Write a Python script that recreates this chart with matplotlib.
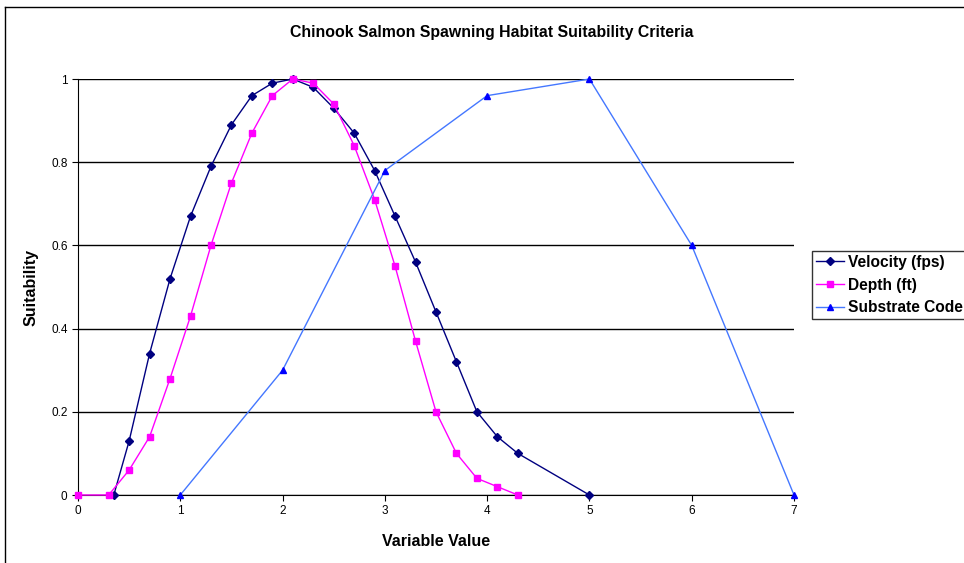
import matplotlib.pyplot as plt
from matplotlib.lines import Line2D

plt.rcParams['font.family'] = ['Liberation Sans', 'DejaVu Sans']

# velocity (fps)
vel_x = [0.35, 0.5, 0.7, 0.9, 1.1, 1.3, 1.5, 1.7, 1.9, 2.1, 2.3, 2.5, 2.7, 2.9,
         3.1, 3.3, 3.5, 3.7, 3.9, 4.1, 4.3, 5.0]
vel_y = [0, 0.13, 0.34, 0.52, 0.67, 0.79, 0.89, 0.96, 0.99, 1.0, 0.98, 0.93, 0.87, 0.78,
         0.67, 0.56, 0.44, 0.32, 0.20, 0.14, 0.10, 0]

# depth (ft)
dep_x = [0, 0.3, 0.5, 0.7, 0.9, 1.1, 1.3, 1.5, 1.7, 1.9, 2.1, 2.3, 2.5, 2.7, 2.9,
         3.1, 3.3, 3.5, 3.7, 3.9, 4.1, 4.3]
dep_y = [0, 0, 0.06, 0.14, 0.28, 0.43, 0.60, 0.75, 0.87, 0.96, 1.0, 0.99, 0.94, 0.84, 0.71,
         0.55, 0.37, 0.20, 0.10, 0.04, 0.02, 0]

# substrate code
sub_x = [1, 2, 3, 4, 5, 6, 7]
sub_y = [0, 0.30, 0.78, 0.96, 1.0, 0.60, 0]

fig = plt.figure(figsize=(9.64, 5.63), dpi=100)
ax = fig.add_axes([78 / 964, 1 - 495 / 563, (794 - 78) / 964, (495 - 79) / 563])

ax.plot(vel_x, vel_y, color='#000080', lw=1, marker='D', ms=3.8, label='Velocity (fps)', zorder=3)
ax.plot(dep_x, dep_y, color='#FF00FF', lw=1, marker='s', ms=5, label='Depth (ft)', zorder=3)
ax.plot(sub_x, sub_y, color='#4477FF', lw=1, marker='^', ms=5, mfc='#0000FF', mec='#0000FF',
        label='Substrate Code', zorder=3)

ax.set_xlim(0, 7)
ax.set_ylim(0, 1)
ax.set_xticks(range(8))
ax.set_yticks([0, 0.2, 0.4, 0.6, 0.8, 1.0])
ax.set_yticklabels(['0', '0.2', '0.4', '0.6', '0.8', '1'])
ax.yaxis.grid(True, color='black', lw=1)
ax.set_axisbelow(True)
for s in ['top', 'right']:
    ax.spines[s].set_visible(False)
ax.tick_params(labelsize=8.5, length=4, width=0.8, direction='out')
for ln in ax.lines:
    ln.set_clip_on(False)

ax.set_xlabel('Variable Value', fontsize=11.5, fontweight='bold', labelpad=12)
ax.set_ylabel('Suitability', fontsize=11.5, fontweight='bold', labelpad=9)
fig.text(492 / 964, 1 - 32 / 563, 'Chinook Salmon Spawning Habitat Suitability Criteria',
         ha='center', va='center', fontsize=11.4, fontweight='bold')

leg = ax.legend(loc='upper left', bbox_to_anchor=(812 / 964, 1 - 251 / 563),
                bbox_transform=fig.transFigure, frameon=True, fancybox=False,
                edgecolor='black', prop={'weight': 'bold', 'size': 11.2},
                handlelength=1.8, borderpad=0.25, labelspacing=0.5, handletextpad=0.25,
                borderaxespad=0)
leg.get_frame().set_linewidth(1)

# chart border
fig.add_artist(Line2D([5 / 964, 5 / 964], [0, 1 - 7 / 563], color='black', lw=1))
fig.add_artist(Line2D([5 / 964, 1], [1 - 7 / 563, 1 - 7 / 563], color='black', lw=1))

fig.savefig('out.png', dpi=100)
